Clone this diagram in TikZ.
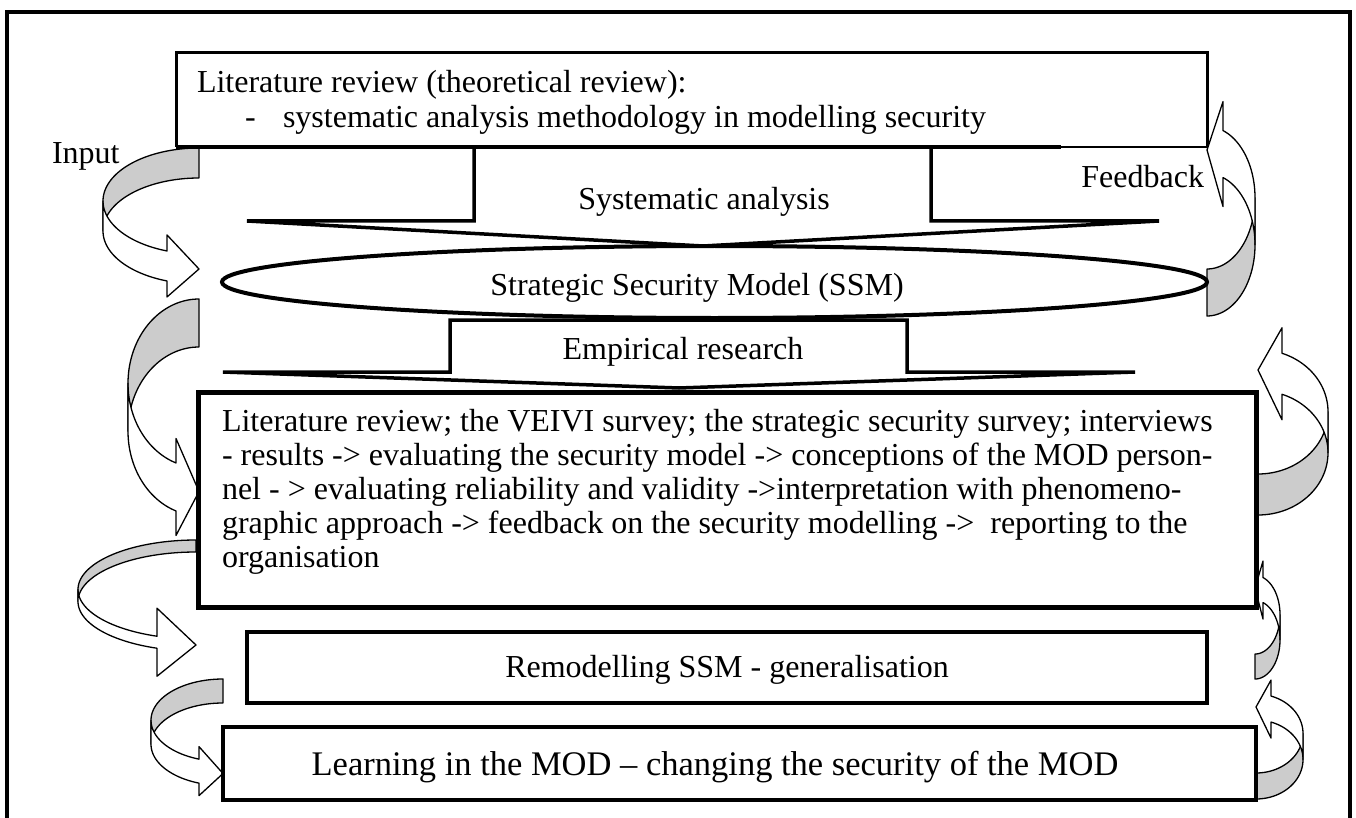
\documentclass[tikz,border=0pt]{standalone}
\usepackage{fontspec}
\setmainfont{Liberation Serif}
\usetikzlibrary{shapes.geometric}
\definecolor{bandgray}{RGB}{204,204,204}
% Word-like curved arrow: #1 ox, #2 oy, #3 sx, #4 sy, #5 w, #6 h, #7 th, #8 aw, #9 ah
\newcommand\carrow[9]{%
  \pgfmathsetmacro\cHR{#6/2-(#7+#8)/4}%
  \pgfmathsetmacro\cTh{acos(#9/#5)}%
  \pgfmathsetmacro\cDy{\cHR*sin(\cTh)}%
  \pgfmathsetmacro\cDh{(#8-#7)/2}%
  \filldraw[backband] plot[domain=-90:0,samples=40] ({#1+(#3)*#5*cos(\x)},{#2+(#4)*(\cHR+\cHR*sin(\x))})
    -- plot[domain=0:-90,samples=40] ({#1+(#3)*#5*cos(\x)},{#2+(#4)*(#7+\cHR+\cHR*sin(\x))}) -- cycle;
  \filldraw[frontband] plot[domain=0:\cTh,samples=40] ({#1+(#3)*#5*cos(\x)},{#2+(#4)*(\cHR+\cHR*sin(\x))})
    -- ({#1+(#3)*#9},{#2+(#4)*(\cHR+\cDy-\cDh)})
    -- ({#1},{#2+(#4)*(#6-#8/2)})
    -- ({#1+(#3)*#9},{#2+(#4)*(#7+\cHR+\cDy+\cDh)})
    -- plot[domain=\cTh:0,samples=40] ({#1+(#3)*#5*cos(\x)},{#2+(#4)*(#7+\cHR+\cHR*sin(\x))}) -- cycle;
}
\begin{document}
\begin{tikzpicture}[x=1pt,y=-1pt,
  every node/.style={inner sep=0pt,outer sep=0pt},
  txt/.style={font=\fontsize{32}{33}\selectfont},
  bigtxt/.style={font=\fontsize{34.5}{36}\selectfont},
  backband/.style={fill=bandgray,draw=black,line width=1.3pt,line join=round},
  frontband/.style={fill=white,draw=black,line width=1.3pt,line join=round},
  bigarrow/.style={draw=black,line width=3.5pt,line join=miter},
  boxshape/.style={draw=black,rectangle}]
\useasboundingbox (0,0) rectangle (1356,818);
\fill[white] (0,0) rectangle (1356,818);
% outer frame
\draw[line width=4pt] (7,818) -- (7,12) -- (1350,12) -- (1350,818);

% curved arrows (left side)
\carrow{199}{148}{-1}{1}{96}{152}{30}{62}{32}
\carrow{199}{299}{-1}{1}{71}{241}{48}{97}{23}
\carrow{196}{540}{-1}{1}{118}{139}{12}{68}{39}
\carrow{223}{679}{-1}{1}{72}{119}{24}{49}{24}
% curved arrows (right side)
\carrow{1207}{316}{1}{-1}{48}{218.5}{47}{105}{16}
\carrow{1258}{515}{1}{-1}{70}{191}{41}{92}{24}
\carrow{1255}{679}{1}{-1}{25}{120}{25}{58}{8}
\carrow{1256}{799}{1}{-1}{47}{121}{26}{58}{15}

% top box
\node[minimum width=1031pt,minimum height=94pt] (lit) at (691.5,100) {};
\draw[line width=3pt] (lit.south west) -- (lit.north west) -- (lit.north east) -- (lit.south east);
\draw[line width=3.5pt] (lit.south west) -- ++(885,0) coordinate (litmid);
\draw[line width=1.2pt] (litmid) -- (lit.south east);

% systematic analysis arrow
\draw[bigarrow] (474,147) -- (474,221) -- (247,221) -- (703,246) -- (1159,221) -- (931,221) -- (931,147);

% SSM ellipse
\node[ellipse,draw,line width=4pt,minimum width=985pt,minimum height=72pt] (ssm) at (714.5,282) {};

% empirical research arrow
\draw[bigarrow] (450,320) -- (450,372) -- (223,372) -- (679,388) -- (1135,372) -- (907,372) -- (907,320) -- cycle;

% empirical box
\node[boxshape,line width=5pt,minimum width=1058pt,minimum height=215pt] (emp) at (727,499.5) {};
% remodelling box
\node[boxshape,line width=3.5pt,minimum width=960pt,minimum height=71pt] (remod) at (727,667.5) {};
% learning box
\node[boxshape,line width=3.5pt,minimum width=1033pt,minimum height=73pt] (learn) at (739.5,763.5) {};

% texts
\node[txt,anchor=base west] (t1) at (197,93) {Literature review (theoretical review):};
\node[txt,anchor=base west] (t2a) at (245,128) {-};
\node[txt,anchor=base west] (t2b) at (283,128) {systematic analysis methodology in modelling security};
\node[txt,anchor=base west] (inp) at (52,164) {Input};
\node[txt,anchor=base east] (fb) at (1204,188) {Feedback};
\node[txt,anchor=base] (sa) at (704,210) {Systematic analysis};
\node[txt,anchor=base] (ssmt) at (697,295) {Strategic Security Model (SSM)};
\node[txt,anchor=base] (er) at (683,359) {Empirical research};
\node[txt,anchor=base west] (e1) at (222,431) {Literature review; the VEIVI survey; the strategic security survey; interviews};
\node[txt,anchor=base west] (e2) at (222,465) {- results -> evaluating the security model -> conceptions of the MOD person-};
\node[txt,anchor=base west] (e3) at (222,499) {nel - > evaluating reliability and validity ->interpretation with phenomeno-};
\node[txt,anchor=base west] (e4) at (222,533) {graphic approach -> feedback on the security modelling ->~ reporting to the};
\node[txt,anchor=base west] (e5) at (222,567) {organisation};
\node[txt,anchor=base] (rt) at (727,677) {Remodelling SSM - generalisation};
\node[bigtxt,anchor=base] (lt) at (715,775) {Learning in the MOD – changing the security of the MOD};
\end{tikzpicture}
\end{document}
